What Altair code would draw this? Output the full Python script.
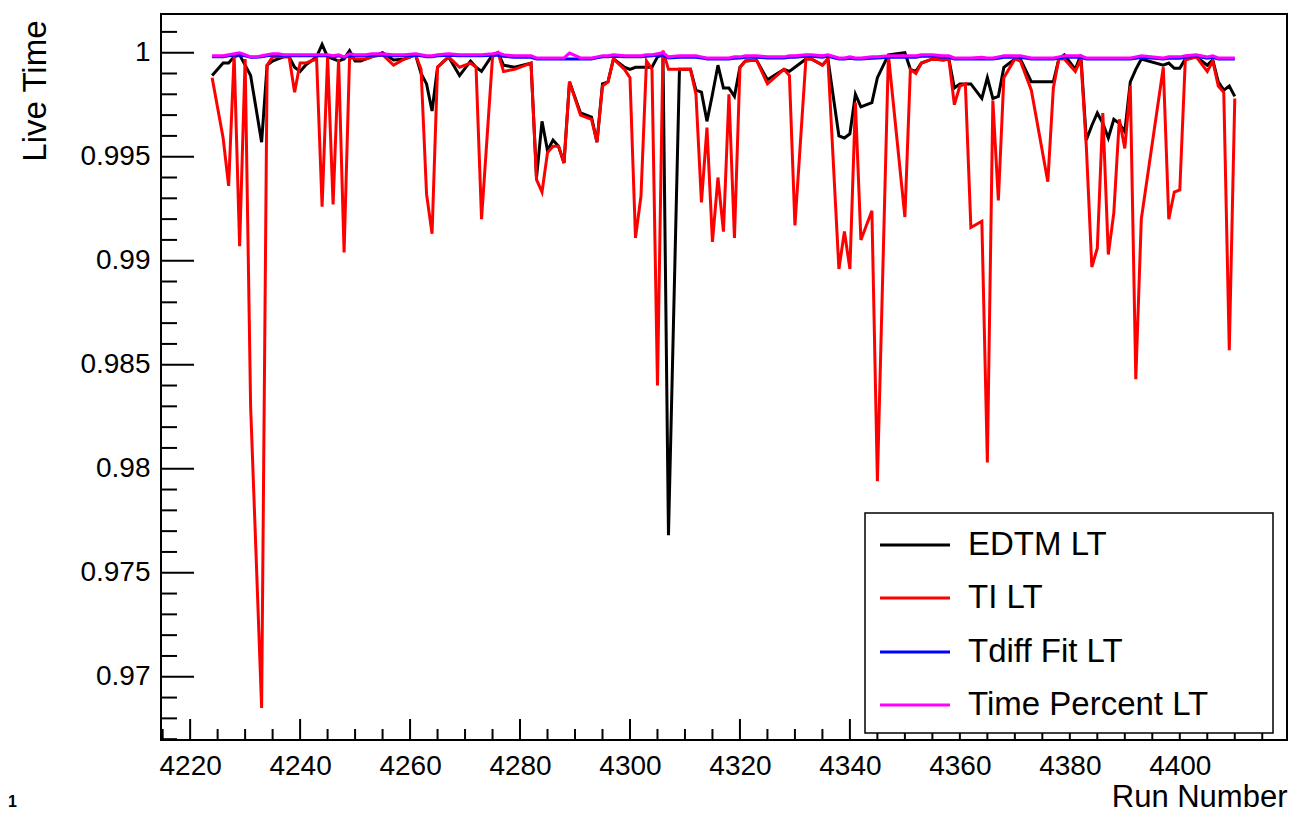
import altair as alt
import pandas as pd

# ---------------- data ----------------
runs = [
    4224, 4226, 4227, 4228, 4229, 4230, 4231, 4232, 4233, 4234,
    4235, 4236, 4237, 4238, 4239, 4240, 4241, 4242, 4243, 4244,
    4245, 4246, 4247, 4248, 4249, 4250, 4251, 4252, 4253, 4255,
    4257, 4259, 4261, 4262, 4263, 4264, 4265, 4267, 4269, 4271,
    4272, 4273, 4275, 4276, 4277, 4279, 4282, 4283, 4284, 4285,
    4286, 4287, 4288, 4289, 4291, 4293, 4294, 4295, 4296, 4297,
    4299, 4300, 4301, 4302, 4303, 4304, 4305, 4306, 4307, 4309,
    4311, 4312, 4313, 4314, 4315, 4316, 4317, 4318, 4319, 4320,
    4321, 4323, 4325, 4328, 4329, 4330, 4332, 4333, 4335, 4336,
    4338, 4339, 4340, 4341, 4342, 4344, 4345, 4347, 4350, 4351,
    4352, 4353, 4355, 4357, 4358, 4359, 4360, 4361, 4362, 4364,
    4365, 4366, 4367, 4368, 4370, 4371, 4373, 4376, 4377, 4378,
    4379, 4381, 4382, 4383, 4384, 4385, 4386, 4387, 4388, 4389,
    4390, 4391, 4392, 4393, 4397, 4398, 4399, 4400, 4401, 4403,
    4405, 4406, 4407, 4408, 4409, 4410,
]

edtm_lt = [
    0.9989, 0.9995, 0.9995, 0.9998, 0.9999, 0.9994, 0.9989, 0.9973, 0.9957, 0.9994,
    0.9996, 0.9997, 0.9998, 0.9998, 0.9993, 0.9991, 0.9994, 0.9996, 0.9998, 1.0004,
    0.9998, 0.9997, 0.9996, 0.9997, 1.0001, 0.9996, 0.9996, 0.9997, 0.9998, 1.0000,
    0.99965, 0.9997, 0.9999, 0.9990, 0.9985, 0.9972, 0.9993, 0.9998, 0.9989, 0.9996,
    0.9993, 0.9991, 0.9999, 1.0000, 0.9994, 0.9993, 0.9995, 0.9940, 0.9967, 0.9953,
    0.9958, 0.9955, 0.9947, 0.9986, 0.9971, 0.9969, 0.9957, 0.9985, 0.9986, 0.9997,
    0.9993, 0.9992, 0.9993, 0.9993, 0.9993, 0.9993, 0.9998, 0.9999, 0.9768, 0.9992,
    0.9992, 0.9982, 0.9981, 0.9967, 0.9980, 0.9994, 0.9983, 0.9983, 0.9979, 0.9993,
    0.9996, 0.99965, 0.9987, 0.9992, 0.9991, 0.9993, 0.9997, 0.9997, 0.9994, 0.9997,
    0.9960, 0.9959, 0.9961, 0.9980, 0.9974, 0.9976, 0.9988, 0.9999, 1.0000, 0.9992,
    0.9991, 0.9995, 0.9997, 0.99965, 0.9997, 0.9983, 0.9985, 0.9985, 0.9985, 0.9978,
    0.9988, 0.9978, 0.9979, 0.9993, 0.9997, 0.9997, 0.9986, 0.9986, 0.9986, 0.9997,
    0.9999, 0.9992, 0.9999, 0.9958, 0.9965, 0.9971, 0.9966, 0.9959, 0.9968, 0.9966,
    0.9962, 0.9986, 0.9992, 0.9997, 0.9994, 0.9995, 0.99925, 0.99925, 0.9997, 0.9998,
    0.9994, 0.99965, 0.9986, 0.9982, 0.9984, 0.9979,
]

ti_lt = [
    0.9988, 0.9959, 0.9936, 0.9999, 0.9907, 0.9997, 0.9830, 0.9758, 0.9685, 0.9994,
    0.9998, 0.9998, 0.9998, 0.9998, 0.9981, 0.9995, 0.9995, 0.9996, 0.9997, 0.9926,
    0.9998, 0.9927, 0.9997, 0.9904, 0.9998, 0.9997, 0.9997, 0.9997, 0.9998, 0.9999,
    0.9994, 0.9997, 0.9999, 0.9992, 0.9932, 0.9913, 0.9993, 0.9998, 0.9993, 0.9995,
    0.9993, 0.9920, 0.9998, 1.0000, 0.9991, 0.9992, 0.9995, 0.9939, 0.9933, 0.9952,
    0.9955, 0.9955, 0.9947, 0.9986, 0.9970, 0.9968, 0.9957, 0.9984, 0.9986, 0.9997,
    0.9992, 0.9988, 0.9911, 0.9931, 0.9996, 0.9992, 0.9840, 1.0001, 0.9992, 0.9992,
    0.9992, 0.9980, 0.9928, 0.9964, 0.9909, 0.9940, 0.9914, 0.9980, 0.9911, 0.9993,
    0.9996, 0.99965, 0.9985, 0.9992, 0.9989, 0.9917, 0.9997, 0.9997, 0.9994, 0.9997,
    0.9896, 0.9914, 0.9896, 0.9976, 0.9910, 0.9924, 0.9794, 0.9999, 0.9921, 0.9992,
    0.9990, 0.9995, 0.9997, 0.99965, 0.9997, 0.9975, 0.9984, 0.9985, 0.9916, 0.9919,
    0.9803, 0.9977, 0.9929, 0.9988, 0.9997, 0.9996, 0.9982, 0.9938, 0.9983, 0.9997,
    0.9997, 0.9991, 0.9997, 0.9955, 0.9897, 0.9906, 0.9971, 0.9903, 0.9923, 0.9968,
    0.9954, 0.9984, 0.9843, 0.9920, 0.9993, 0.9920, 0.9933, 0.9934, 0.99965, 0.9998,
    0.9991, 0.9996, 0.9984, 0.9981, 0.9857, 0.9978,
]

tdiff_lt = [
    0.99980, 0.99980, 0.99985, 0.99988, 0.99988, 0.99985, 0.99978, 0.99978, 0.99980, 0.99985,
    0.99988, 0.99988, 0.99985, 0.99985, 0.99985, 0.99985, 0.99985, 0.99985, 0.99985, 0.99985,
    0.99985, 0.99980, 0.99985, 0.99978, 0.99985, 0.99985, 0.99985, 0.99985, 0.99988, 0.99988,
    0.99985, 0.99985, 0.99988, 0.99985, 0.99980, 0.99980, 0.99985, 0.99988, 0.99985, 0.99985,
    0.99985, 0.99985, 0.99988, 0.99988, 0.99983, 0.99978, 0.99978, 0.99970, 0.99970, 0.99970,
    0.99970, 0.99970, 0.99970, 0.99970, 0.99970, 0.99970, 0.99975, 0.99980, 0.99980, 0.99983,
    0.99980, 0.99980, 0.99980, 0.99980, 0.99983, 0.99985, 0.99988, 0.99988, 0.99975, 0.99978,
    0.99978, 0.99978, 0.99975, 0.99970, 0.99970, 0.99970, 0.99970, 0.99970, 0.99973, 0.99975,
    0.99978, 0.99978, 0.99975, 0.99975, 0.99978, 0.99978, 0.99983, 0.99983, 0.99978, 0.99983,
    0.99970, 0.99970, 0.99973, 0.99970, 0.99970, 0.99973, 0.99975, 0.99978, 0.99978, 0.99978,
    0.99978, 0.99983, 0.99983, 0.99978, 0.99978, 0.99970, 0.99970, 0.99970, 0.99970, 0.99970,
    0.99970, 0.99970, 0.99973, 0.99978, 0.99978, 0.99978, 0.99970, 0.99970, 0.99970, 0.99973,
    0.99978, 0.99978, 0.99978, 0.99970, 0.99970, 0.99970, 0.99970, 0.99970, 0.99970, 0.99970,
    0.99970, 0.99970, 0.99973, 0.99978, 0.99970, 0.99973, 0.99973, 0.99973, 0.99978, 0.99983,
    0.99973, 0.99978, 0.99970, 0.99970, 0.99970, 0.99970,
]

tpct_lt = [
    0.99985, 0.99985, 0.99990, 0.99995, 1.00000, 0.99990, 0.99980, 0.99980, 0.99985, 0.99990,
    0.99995, 0.99995, 0.99990, 0.99990, 0.99990, 0.99990, 0.99990, 0.99990, 0.99990, 0.99990,
    0.99990, 0.99985, 0.99990, 0.99980, 0.99995, 0.99990, 0.99990, 0.99990, 0.99995, 0.99995,
    0.99990, 0.99990, 0.99995, 0.99990, 0.99985, 0.99985, 0.99990, 0.99995, 0.99990, 0.99990,
    0.99990, 0.99990, 0.99995, 1.00000, 0.99990, 0.99985, 0.99985, 0.99975, 0.99975, 0.99975,
    0.99975, 0.99975, 0.99975, 0.99998, 0.99975, 0.99975, 0.99980, 0.99985, 0.99985, 0.99990,
    0.99985, 0.99985, 0.99985, 0.99985, 0.99990, 0.99990, 0.99995, 1.00000, 0.99980, 0.99985,
    0.99985, 0.99985, 0.99980, 0.99975, 0.99975, 0.99975, 0.99975, 0.99975, 0.99980, 0.99980,
    0.99985, 0.99985, 0.99980, 0.99980, 0.99985, 0.99985, 0.99990, 0.99990, 0.99985, 0.99990,
    0.99975, 0.99975, 0.99980, 0.99975, 0.99975, 0.99980, 0.99980, 0.99985, 0.99985, 0.99985,
    0.99985, 0.99990, 0.99990, 0.99985, 0.99985, 0.99975, 0.99975, 0.99975, 0.99975, 0.99978,
    0.99975, 0.99975, 0.99980, 0.99985, 0.99985, 0.99985, 0.99975, 0.99975, 0.99975, 0.99980,
    0.99985, 0.99985, 0.99985, 0.99975, 0.99975, 0.99975, 0.99975, 0.99975, 0.99975, 0.99975,
    0.99975, 0.99975, 0.99980, 0.99985, 0.99975, 0.99980, 0.99980, 0.99980, 0.99985, 0.99990,
    0.99980, 0.99985, 0.99975, 0.99975, 0.99975, 0.99975,
]

legend_labels = ["EDTM LT", "TI LT", "Tdiff Fit LT", "Time Percent LT"]
legend_colors = ["#000000", "#ff0000", "#0000ff", "#ff00ff"]

x_major = [4220, 4240, 4260, 4280, 4300, 4320, 4340, 4360, 4380, 4400]
x_minor = [4215, 4225, 4230, 4235, 4245, 4250, 4255, 4265, 4270, 4275,
           4285, 4290, 4295, 4305, 4310, 4315, 4325, 4330, 4335, 4345,
           4350, 4355, 4365, 4370, 4375, 4385, 4390, 4395, 4405, 4410, 4415]
y_major = [0.97, 0.975, 0.98, 0.985, 0.99, 0.995, 1.0]
y_minor = [0.967, 0.968, 0.969, 0.971, 0.972, 0.973, 0.974, 0.976, 0.977,
           0.978, 0.979, 0.981, 0.982, 0.983, 0.984, 0.986, 0.987, 0.988,
           0.989, 0.991, 0.992, 0.993, 0.994, 0.996, 0.997, 0.998, 0.999, 1.001]

X_DOMAIN = [4214.7, 4419.5]
Y_DOMAIN = [0.96696, 1.00186]

# ---------------- layout ----------------
W, H = 1126, 726
PAD = {"left": 161, "top": 14, "right": 4, "bottom": 73}
FONT = "Liberation Sans"

xs = alt.Scale(domain=X_DOMAIN, nice=False, zero=False)
ys = alt.Scale(domain=Y_DOMAIN, nice=False, zero=False)

x_enc = alt.X(
    "run:Q", scale=xs,
    axis=alt.Axis(values=x_major, format="d", ticks=False, domain=False, grid=False,
                  labelFont=FONT, labelFontSize=28, labelColor="black",
                  labelPadding=12, labelFlush=False, labelOverlap=False,
                  title="Run Number", titleFont=FONT, titleFontSize=31,
                  titleFontWeight="normal", titleColor="black",
                  titleAlign="right", titleBaseline="alphabetic",
                  titleX=W, titleY=66),
)
y_enc = alt.Y(
    "value:Q", scale=ys,
    axis=alt.Axis(values=y_major, format=".3~f", ticks=False, domain=False, grid=False,
                  labelFont=FONT, labelFontSize=28, labelColor="black",
                  labelPadding=11, labelFlush=False, labelOverlap=False,
                  title="Live Time", titleFont=FONT, titleFontSize=33,
                  titleFontWeight="normal", titleColor="black", titleAngle=270,
                  titleAlign="right", titleBaseline="alphabetic",
                  titleX=-116, titleY=6),
)

dummy = pd.DataFrame({"a": [0]})

layers = []

# axis ticks pointing inward (ROOT style)
layers.append(alt.Chart(pd.DataFrame({"value": y_major})).mark_rule(color="black", strokeWidth=2)
              .encode(y=y_enc, x=alt.value(0), x2=alt.value(33)))
layers.append(alt.Chart(pd.DataFrame({"value": y_minor})).mark_rule(color="black", strokeWidth=2)
              .encode(y=alt.Y("value:Q", scale=ys), x=alt.value(0), x2=alt.value(16)))
layers.append(alt.Chart(pd.DataFrame({"run": x_major})).mark_rule(color="black", strokeWidth=2)
              .encode(x=x_enc, y=alt.value(H), y2=alt.value(H - 21)))
layers.append(alt.Chart(pd.DataFrame({"run": x_minor})).mark_rule(color="black", strokeWidth=2)
              .encode(x=alt.X("run:Q", scale=xs), y=alt.value(H), y2=alt.value(H - 11)))

# series lines
for vals, col in zip([edtm_lt, ti_lt, tdiff_lt, tpct_lt], legend_colors):
    df = pd.DataFrame({"run": runs, "value": vals})
    layers.append(alt.Chart(df).mark_line(color=col, strokeWidth=3, clip=True)
                  .encode(x=alt.X("run:Q", scale=xs), y=alt.Y("value:Q", scale=ys)))

# legend box
LX0, LX1, LY0, LY1 = 704, 1112, 499, 719
layers.append(alt.Chart(dummy).mark_rect(fill="white", stroke="black", strokeWidth=1.5)
              .encode(x=alt.value(LX0), x2=alt.value(LX1), y=alt.value(LY0), y2=alt.value(LY1)))
row_y = [531, 584, 638, 691]
for lab, col, yy in zip(legend_labels, legend_colors, row_y):
    layers.append(alt.Chart(dummy).mark_rule(color=col, strokeWidth=3)
                  .encode(x=alt.value(719), x2=alt.value(789), y=alt.value(yy)))
    layers.append(alt.Chart(dummy).mark_text(align="left", baseline="middle", font=FONT,
                                             fontSize=33, color="black")
                  .encode(x=alt.value(807), y=alt.value(yy), text=alt.value(lab)))

# stray page-number glyph at lower-left of the canvas
layers.append(alt.Chart(dummy).mark_text(align="left", baseline="alphabetic", font=FONT,
                                         fontSize=16, fontWeight="bold", color="black")
              .encode(x=alt.value(-153), y=alt.value(793), text=alt.value("1")))

chart = (
    alt.layer(*layers)
    .properties(width=W, height=H, padding=PAD, autosize=alt.AutoSizeParams(type="none"),
                background="white")
    .configure_view(stroke="black", strokeWidth=2)
)

chart.save("out.html", embed_options={"renderer": "svg", "actions": False})
